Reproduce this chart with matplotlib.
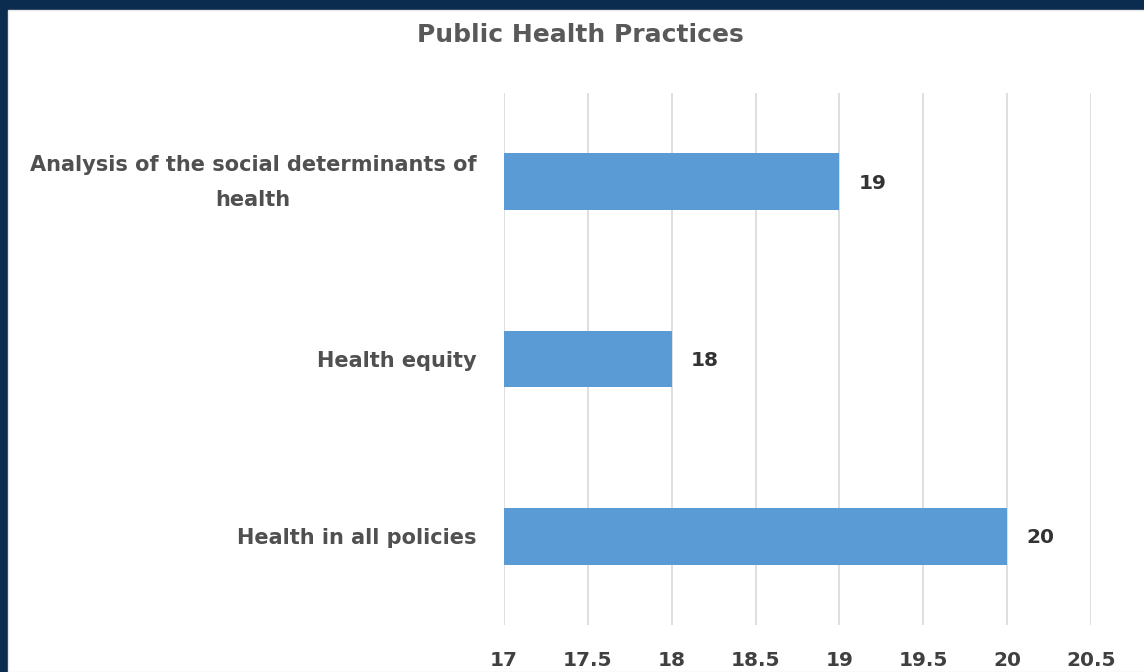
import matplotlib.pyplot as plt
import matplotlib.patches as patches
import matplotlib.transforms as mtransforms

categories = ['Health in all policies', 'Health equity',
              'Analysis of the social determinants of\nhealth']
values = [20, 18, 19]
xticks = [17, 17.5, 18, 18.5, 19, 19.5, 20, 20.5]
xtick_labels = ['17', '17.5', '18', '18.5', '19', '19.5', '20', '20.5']

plt.rcParams['font.family'] = ['DejaVu Sans']

fig = plt.figure(figsize=(11.44, 6.72), dpi=100)
fig.patch.set_facecolor('#0b2c4f')
# white chart area inside the dark frame
fig.add_artist(patches.Rectangle((8 / 1144, 0), 1, 662 / 672, transform=fig.transFigure,
                                 facecolor='white', edgecolor='#e8e8e8', linewidth=1, zorder=0))

ax = fig.add_axes([504 / 1144, 47 / 672, 587 / 1144, 532 / 672])
ax.set_facecolor('white')

ypos = range(len(categories))
ax.barh(ypos, values, height=0.32, left=0, color='#5b9bd5', zorder=2)
ax.set_xlim(17, 20.5)
ax.set_ylim(-0.5, 2.5)

for y, v in zip(ypos, values):
    ax.annotate(str(v), (v, y), xytext=(14, -1), textcoords='offset points',
                ha='left', va='center', fontsize=14.5, fontweight='bold', color='#333333')

ax.set_yticks(list(ypos))
ax.set_yticklabels(categories, fontsize=15, fontweight='bold', color='#505050',
                   multialignment='center', linespacing=1.9)
ax.set_xticks(xticks)
ax.set_xticklabels(xtick_labels, fontsize=14.5, fontweight='bold', color='#404040')
ax.tick_params(axis='both', length=0)
ax.tick_params(axis='x', pad=19)
ax.tick_params(axis='y', pad=20)

# nudge the two-line label up a little
lbl = ax.get_yticklabels()[2]
lbl.set_transform(lbl.get_transform() + mtransforms.ScaledTranslation(0, 6 / 72, fig.dpi_scale_trans))

ax.grid(axis='x', color='#d9d9d9', linewidth=1.2, zorder=0)
ax.set_axisbelow(True)
for s in ax.spines.values():
    s.set_visible(False)

fig.text(580 / 1144, 1 - 35 / 672, 'Public Health Practices', ha='center', va='center',
         fontsize=18, fontweight='bold', color='#595959')

fig.savefig('out.png', dpi=100, facecolor=fig.get_facecolor())
